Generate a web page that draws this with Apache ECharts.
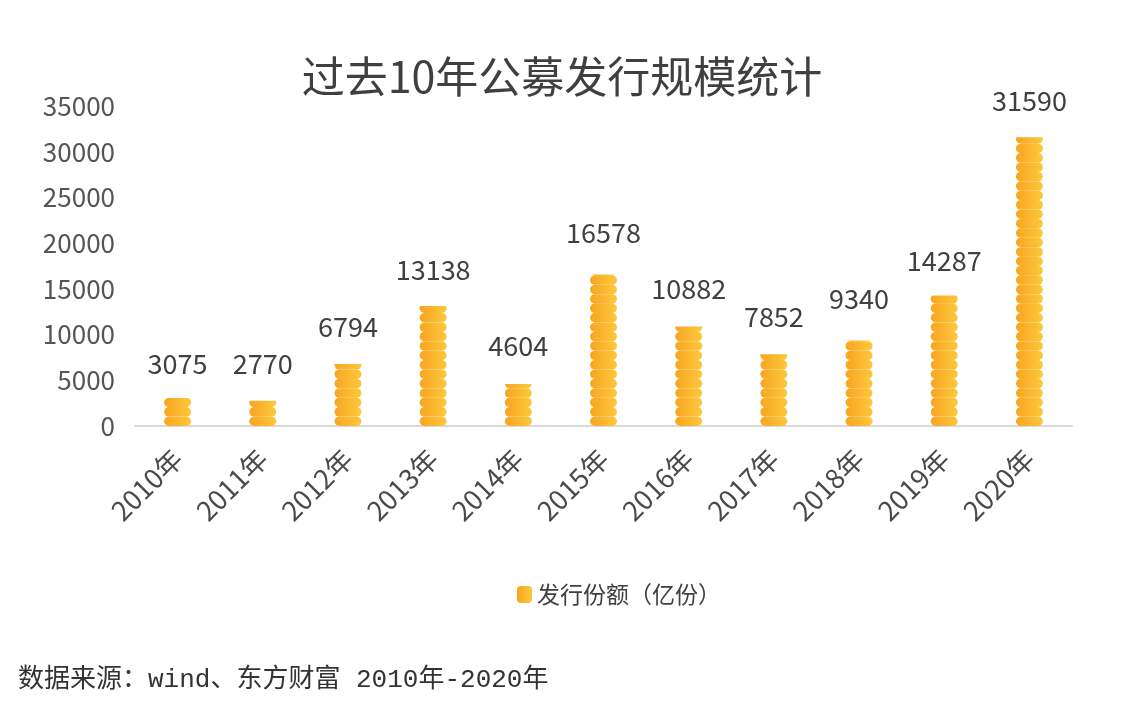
<!DOCTYPE html>
<html><head><meta charset="utf-8">
<script src="https://cdn.jsdelivr.net/npm/echarts@6/dist/echarts.min.js"></script>
<style>html,body{margin:0;padding:0;background:#fff;}#c{width:1124px;height:714px;}</style>
</head><body><div id="c"></div>
<script>
const categories = ['2010年','2011年','2012年','2013年','2014年','2015年','2016年','2017年','2018年','2019年','2020年'];
const values = [3075, 2770, 6794, 13138, 4604, 16578, 10882, 7852, 9340, 14287, 31590];
const seriesName = '发行份额（亿份）';
const titleText = '过去10年公募发行规模统计';
const footerText = '数据来源：wind、东方财富 2010年-2020年';

const chart = echarts.init(document.getElementById('c'));
const grad = new echarts.graphic.LinearGradient(0,0,1,0,[{offset:0,color:'#f8a521'},{offset:1,color:'#fcc83c'}]);
chart.setOption({
  backgroundColor:'#fff',
  title:{text:titleText,left:'center',top:50,textStyle:{fontSize:43,fontWeight:'normal',color:'#3f3f3f',fontFamily:'Noto Sans CJK SC'}},
  legend:{data:[{name:seriesName,icon:'roundRect'}],top:578,left:512,itemWidth:15,itemHeight:17,itemGap:6,
    textStyle:{fontSize:23,color:'#404040',fontFamily:'Noto Sans CJK SC'}},
  grid:{left:135,right:52,top:106,bottom:288},
  xAxis:{type:'category',data:categories,
    axisLine:{lineStyle:{color:'#d9d9d9',width:2}},axisTick:{show:false},
    axisLabel:{rotate:45,fontSize:27,color:'#4a4a4a',margin:28,fontFamily:'Noto Sans CJK SC'}},
  yAxis:{type:'value',min:0,max:35000,interval:5000,
    splitLine:{show:false},axisLine:{show:false},axisTick:{show:false},
    axisLabel:{fontSize:26,color:'#555',margin:20,fontFamily:'Noto Sans CJK SC',formatter:function(v){return String(v);}}},
  graphic:[{type:'text',left:18,top:667,style:{text:footerText,fontSize:26,fill:'#333',fontFamily:'Liberation Mono, Noto Sans CJK SC'}}],
  series:[{
    name:seriesName,type:'pictorialBar',data:values,
    symbol:'path://M5,0 L22,0 A5 5 0 0 1 22,10 L5,10 A5 5 0 0 1 5,0 Z',
    symbolSize:[27,9.5],symbolRepeat:true,symbolClip:true,symbolMargin:0,
    itemStyle:{color:grad},
    label:{show:true,position:'top',distance:20,fontSize:27,color:'#404040',fontFamily:'Noto Sans CJK SC'}
  }]
});
</script></body></html>
